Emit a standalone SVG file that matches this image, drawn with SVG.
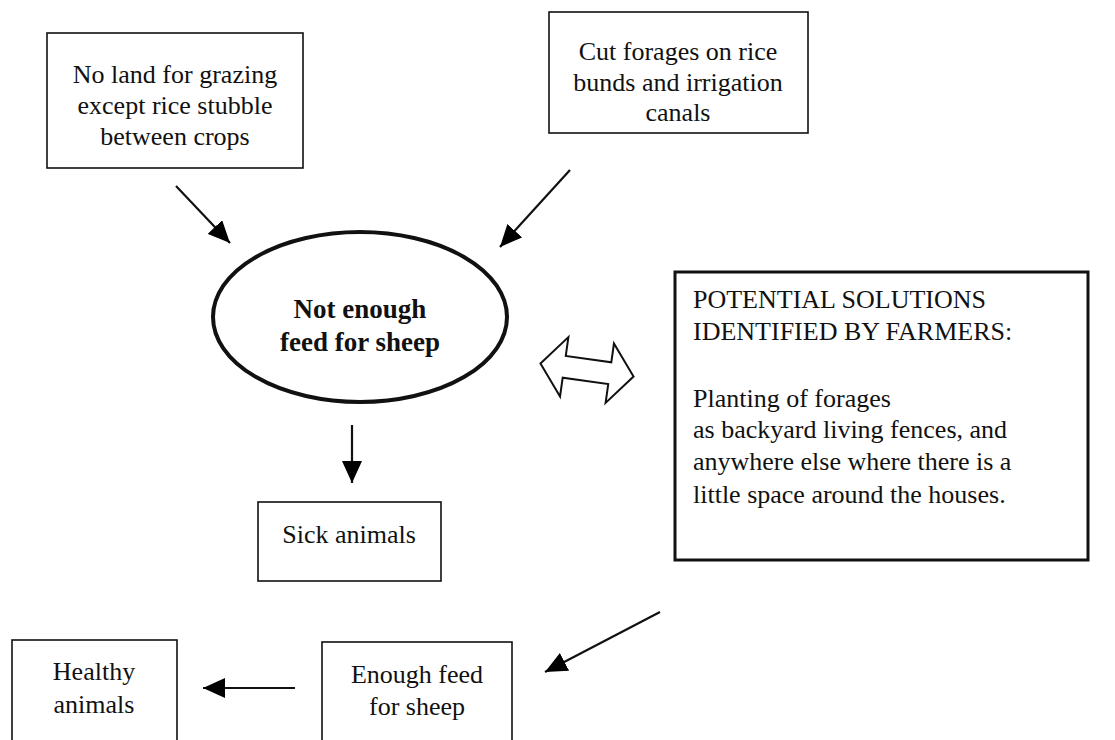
<svg xmlns="http://www.w3.org/2000/svg" width="1115" height="740" viewBox="0 0 1115 740" font-family="'Liberation Serif', 'Times New Roman', serif">
  <defs>
    <marker id="head" viewBox="0 0 22 20" refX="22" refY="10" markerWidth="22" markerHeight="20" markerUnits="userSpaceOnUse" orient="auto">
      <path d="M0,0 L22,10 L0,20 z" fill="#000"/>
    </marker>
  </defs>
  <style>
    .box { fill: #fff; stroke: #111; stroke-width: 1.6; }
    .big { fill: #fff; stroke: #111; stroke-width: 3; }
    text { font-family: 'Liberation Serif', 'Times New Roman', serif; font-size: 26px; fill: #111; }
    .c { text-anchor: middle; }
    .b { font-weight: bold; font-size: 27px; }
    .link { stroke: #111; stroke-width: 2.2; fill: none; marker-end: url(#head); }
  </style>
  <rect width="1115" height="740" fill="#fff"/>

  <g id="no-land">
    <rect class="box" x="47" y="33" width="256" height="135"/>
    <text class="c" x="175" y="83" font-family="'Liberation Serif', serif">No land for grazing</text>
    <text class="c" x="175" y="114" font-family="'Liberation Serif', serif">except rice stubble</text>
    <text class="c" x="175" y="145" font-family="'Liberation Serif', serif">between crops</text>
  </g>

  <g id="cut-forages">
    <rect class="box" x="549" y="12" width="259" height="121"/>
    <text class="c" x="678" y="60" font-family="'Liberation Serif', serif">Cut forages on rice</text>
    <text class="c" x="678" y="91" font-family="'Liberation Serif', serif">bunds and irrigation</text>
    <text class="c" x="678" y="121" font-family="'Liberation Serif', serif">canals</text>
  </g>

  <g id="not-enough">
    <ellipse cx="360" cy="317" rx="147" ry="85" fill="#fff" stroke="#111" stroke-width="4"/>
    <text class="c b" x="360" y="318" font-family="'Liberation Serif', serif">Not enough</text>
    <text class="c b" x="360" y="351" font-family="'Liberation Serif', serif">feed for sheep</text>
  </g>

  <g id="sick">
    <rect class="box" x="258" y="502" width="183" height="79"/>
    <text class="c" x="349" y="543" font-family="'Liberation Serif', serif">Sick animals</text>
  </g>

  <g id="solutions">
    <rect class="big" x="675" y="272" width="413" height="288"/>
    <text x="693" y="308" font-family="'Liberation Serif', serif">POTENTIAL SOLUTIONS</text>
    <text x="693" y="340" font-family="'Liberation Serif', serif">IDENTIFIED BY FARMERS:</text>
    <text x="693" y="407" font-family="'Liberation Serif', serif">Planting of forages</text>
    <text x="693" y="438" font-family="'Liberation Serif', serif">as backyard living fences, and</text>
    <text x="693" y="470" font-family="'Liberation Serif', serif">anywhere else where there is a</text>
    <text x="693" y="503" font-family="'Liberation Serif', serif">little space around the houses.</text>
  </g>

  <g id="enough">
    <rect class="box" x="322" y="642" width="190" height="110"/>
    <text class="c" x="417" y="683" font-family="'Liberation Serif', serif">Enough feed</text>
    <text class="c" x="417" y="715" font-family="'Liberation Serif', serif">for sheep</text>
  </g>

  <g id="healthy">
    <rect class="box" x="12" y="640" width="165" height="112"/>
    <text class="c" x="94" y="680" font-family="'Liberation Serif', serif">Healthy</text>
    <text class="c" x="94" y="713" font-family="'Liberation Serif', serif">animals</text>
  </g>

  <g id="connectors">
    <line class="link" x1="176" y1="186" x2="230" y2="243"/>
    <line class="link" x1="570" y1="170" x2="500" y2="247"/>
    <line class="link" x1="352" y1="425" x2="352" y2="483"/>
    <line class="link" x1="660" y1="612" x2="545" y2="672"/>
    <line class="link" x1="295" y1="688" x2="203" y2="688"/>
    <!-- two-way block arrow between the problem and the solutions -->
    <polygon transform="translate(587 370) rotate(8)" points="-47,0 -23,-30 -23,-11 23,-11 23,-30 47,0 23,30 23,11 -23,11 -23,30" fill="#fff" stroke="#111" stroke-width="2"/>
  </g>
</svg>
